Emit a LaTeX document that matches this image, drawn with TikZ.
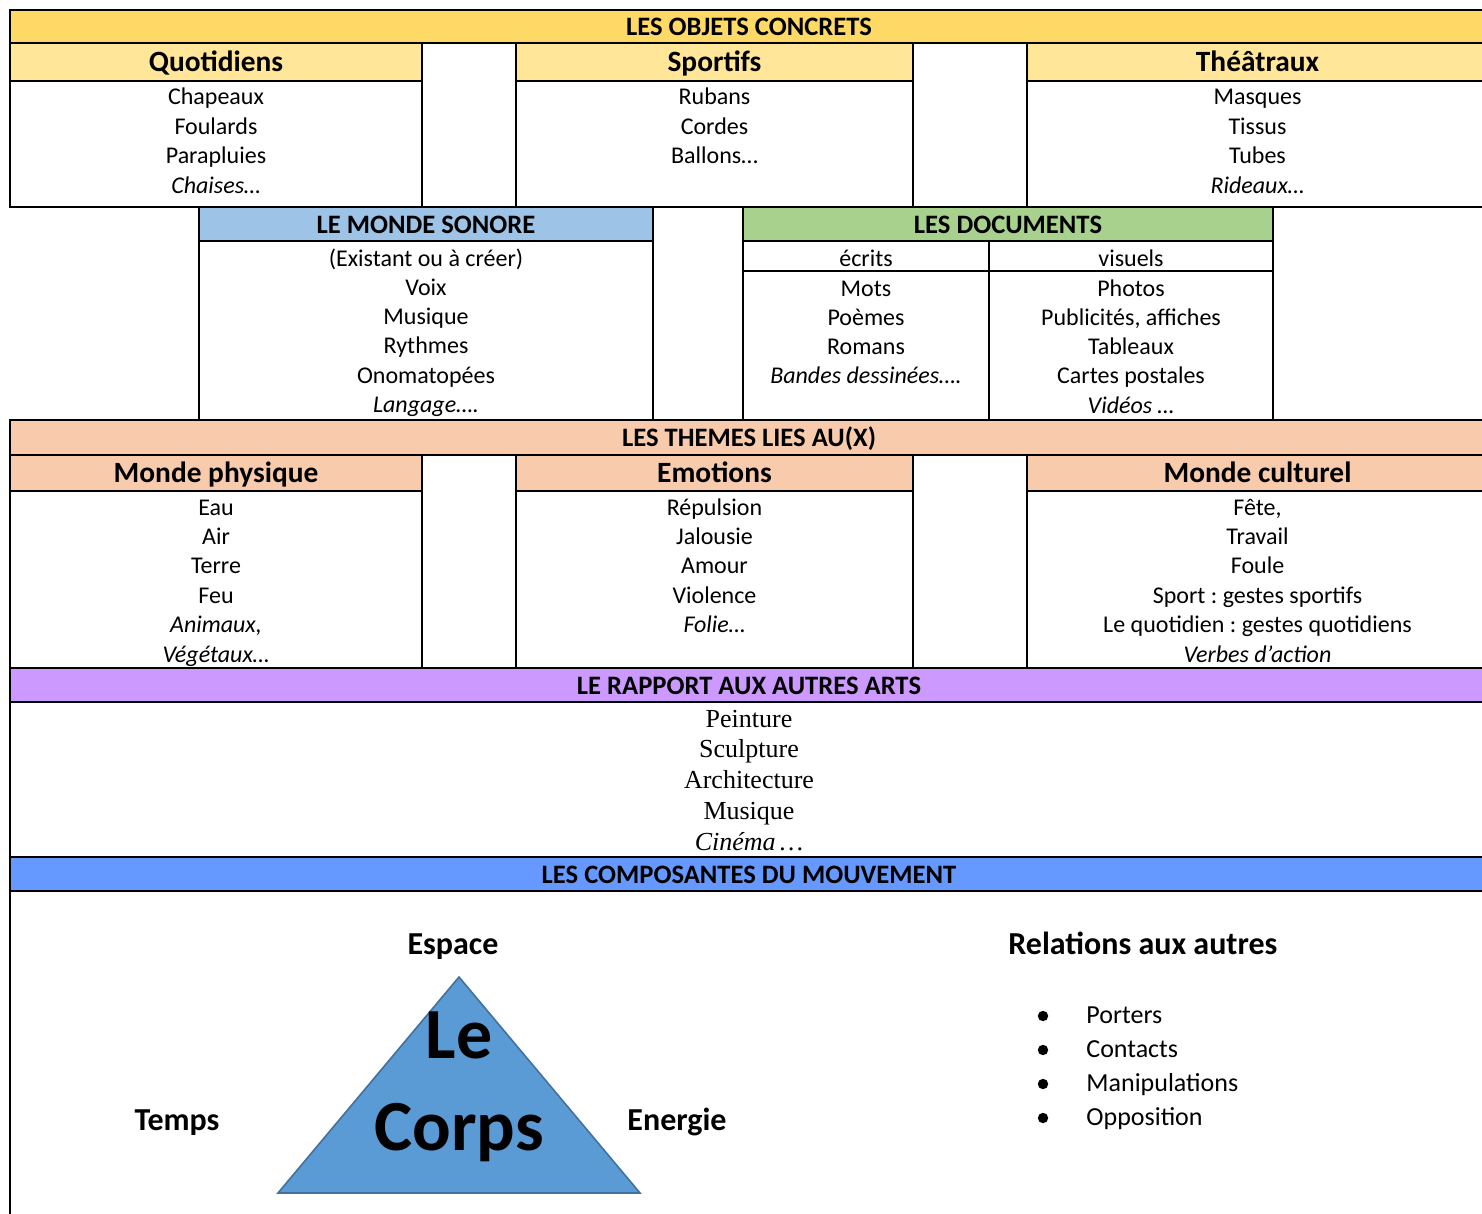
\documentclass[tikz,border=0pt]{standalone}
\usepackage{fontspec}
\setmainfont{Carlito}
\newfontfamily\tnr{Liberation Serif}
\frenchspacing
\definecolor{yelH}{HTML}{FFD966}
\definecolor{yelS}{HTML}{FFE699}
\definecolor{sonB}{HTML}{9DC3E6}
\definecolor{docG}{HTML}{A9D18E}
\definecolor{peach}{HTML}{F8CBAD}
\definecolor{purp}{HTML}{CC99FF}
\definecolor{mvtB}{HTML}{6699FF}
\definecolor{triF}{HTML}{5B9BD5}
\definecolor{triD}{HTML}{41719C}
\begin{document}
\begin{tikzpicture}[x=0.5pt,y=-0.5pt,
  grid/.style={line width=1.2pt},
  hdr/.style={font=\fontsize{13.3}{15}\selectfont\bfseries, anchor=base, inner sep=0pt},
  subh/.style={font=\fontsize{14.7}{17}\selectfont\bfseries, anchor=base, inner sep=0pt},
  bodyl/.style={font=\fontsize{12}{14.7}\selectfont, anchor=base, inner sep=0pt},
  artl/.style={font=\tnr\fontsize{13}{15.35}\selectfont, anchor=base, inner sep=0pt},
  lab/.style={font=\fontsize{16}{19}\selectfont\bfseries, anchor=base, inner sep=0pt},
  itm/.style={font=\fontsize{13}{17}\selectfont, anchor=base west, inner sep=0pt},
  big/.style={font=\fontsize{36}{40}\selectfont\bfseries, anchor=base, inner sep=0pt},
]
\useasboundingbox (0,0) rectangle (1482,1214);
\clip (0,0) rectangle (1482,1214);
\fill[white] (0,0) rectangle (1482,1214);

% ---------- Row 1 : objets concrets ----------
\fill[yelH] (10,10) rectangle (1490,43);
\fill[yelS] (10,43) rectangle (422,81);
\fill[yelS] (516,43) rectangle (913,81);
\fill[yelS] (1027,43) rectangle (1490,81);
\draw[grid] (10,10) rectangle (1488,207);
\draw[grid] (10,43) -- (1488,43);
\draw[grid] (10,81) -- (422,81) (516,81) -- (913,81) (1027,81) -- (1488,81);
\draw[grid] (422,43) -- (422,207) (516,43) -- (516,207) (913,43) -- (913,207) (1027,43) -- (1027,207);

\node[hdr] (objets) at (749,35.5) {LES OBJETS CONCRETS};
\node[subh] (quot) at (216,71.5) {Quotidiens};
\node[subh] (sport) at (714.5,71.5) {Sportifs};
\node[subh] (theat) at (1257.5,71.5) {Théâtraux};
\foreach \t [count=\i] in {Chapeaux,Foulards,Parapluies,\textit{Chaises…}}
  \node[bodyl] (quot\i) at (216,{105+(\i-1)*29.4}) {\t};
\foreach \t [count=\i] in {Rubans,Cordes,Ballons…}
  \node[bodyl] (sport\i) at (714.5,{105+(\i-1)*29.4}) {\t};
\foreach \t [count=\i] in {Masques,Tissus,Tubes,\textit{Rideaux…}}
  \node[bodyl] (theat\i) at (1257.5,{105+(\i-1)*29.4}) {\t};

% ---------- Row 2 : monde sonore / documents ----------
\fill[sonB] (199,207) rectangle (653,241);
\fill[docG] (743,207) rectangle (1273,241);
\draw[grid] (199,207) rectangle (653,420);
\draw[grid] (653,207) rectangle (743,420);
\draw[grid] (743,207) rectangle (1273,420);
\draw[grid] (199,241) -- (653,241) (743,241) -- (1273,241) (743,271) -- (1273,271);
\draw[grid] (989,241) -- (989,420);

\node[hdr] (sonore) at (426,234) {LE MONDE SONORE};
\foreach \t [count=\i] in {(Existant ou à créer),Voix,Musique,Rythmes,Onomatopées,\textit{Langage….}}
  \node[bodyl] (son\i) at (426,{266+(\i-1)*29.25}) {\t};
\node[hdr] (docs) at (1008,234) {LES DOCUMENTS};
\node[bodyl] (ecrits) at (866,266) {écrits};
\node[bodyl] (visuels) at (1131,266) {visuels};
\foreach \t [count=\i] in {Mots,Poèmes,Romans,\textit{Bandes dessinées….}}
  \node[bodyl] (ecr\i) at (866,{296+(\i-1)*29.25}) {\t};
\foreach \t [count=\i] in {Photos,{Publicités, affiches},Tableaux,Cartes postales,\textit{Vidéos …}}
  \node[bodyl] (vis\i) at (1131,{296+(\i-1)*29.25}) {\t};

% ---------- Row 3 : themes ----------
\fill[peach] (10,420) rectangle (1490,455);
\fill[peach] (10,455) rectangle (422,491);
\fill[peach] (516,455) rectangle (913,491);
\fill[peach] (1027,455) rectangle (1490,491);
\draw[grid] (10,420) rectangle (1488,668);
\draw[grid] (10,455) -- (1488,455);
\draw[grid] (10,491) -- (422,491) (516,491) -- (913,491) (1027,491) -- (1488,491);
\draw[grid] (422,455) -- (422,668) (516,455) -- (516,668) (913,455) -- (913,668) (1027,455) -- (1027,668);

\node[hdr] (themes) at (749,446.5) {LES THEMES LIES AU(X)};
\node[subh] (phys) at (216,482) {Monde physique};
\node[subh] (emo) at (714.5,482) {Emotions};
\node[subh] (cult) at (1257.5,482) {Monde culturel};
\foreach \t [count=\i] in {Eau,Air,Terre,Feu,\textit{Animaux,},\textit{Végétaux…}}
  \node[bodyl] (phys\i) at (216,{515+(\i-1)*29.4}) {\t};
\foreach \t [count=\i] in {Répulsion,Jalousie,Amour,Violence,\textit{Folie…}}
  \node[bodyl] (emo\i) at (714.5,{515+(\i-1)*29.4}) {\t};
\foreach \t [count=\i] in {{Fête,},Travail,Foule,Sport : gestes sportifs,Le quotidien : gestes quotidiens,\textit{Verbes d’action}}
  \node[bodyl] (cult\i) at (1257.5,{515+(\i-1)*29.4}) {\t};

% ---------- Row 4 : autres arts ----------
\fill[purp] (10,668) rectangle (1490,702);
\draw[grid] (10,668) rectangle (1488,857);
\draw[grid] (10,702) -- (1488,702);
\node[hdr] (arts) at (749,694) {LE RAPPORT AUX AUTRES ARTS};
\foreach \t [count=\i] in {Peinture,Sculpture,Architecture,Musique,\textit{Cinéma\,…}}
  \node[artl] (art\i) at (749,{727+(\i-1)*30.75}) {\t};

% ---------- Row 5 : composantes du mouvement ----------
\fill[mvtB] (10,857) rectangle (1490,891);
\draw[grid] (10,857) -- (1488,857) (10,891) -- (1488,891);
\draw[grid] (10,857) -- (10,1220);
\draw[grid] (1488,857) -- (1488,1220);
\node[hdr] (mvt) at (749,883) {LES COMPOSANTES DU MOUVEMENT};

\draw[fill=triF, draw=triD, line width=0.8pt] (459,977) -- (640,1193) -- (278,1193) -- cycle;
\node[big] (le) at (459,1058) {Le};
\node[big] (corps) at (459,1150) {Corps};
\node[lab] (espace) at (453,954) {Espace};
\node[lab] (temps) at (177,1130) {Temps};
\node[lab] (energie) at (677,1130) {Energie};
\node[lab, anchor=base west] (rel) at (1008,954) {Relations aux autres};
\foreach \t [count=\i] in {Porters,Contacts,Manipulations,Opposition}{
  \node[itm] (rel\i) at (1086,{1023+(\i-1)*34}) {\t};
  \fill (1043,{1016+(\i-1)*34}) circle (5.2);
}
\end{tikzpicture}
\end{document}
